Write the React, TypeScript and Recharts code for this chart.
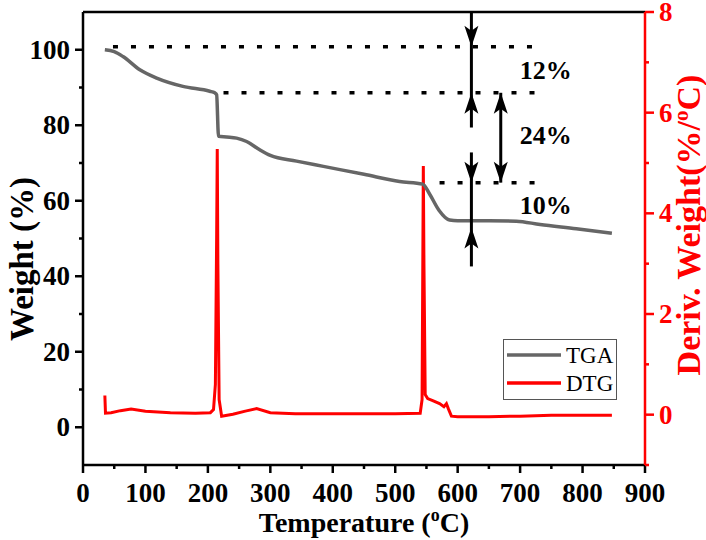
import React from 'react';
import {
  ComposedChart,
  Line,
  XAxis,
  YAxis,
  ReferenceLine,
  ReferenceDot,
  Legend,
} from 'recharts';

const FONT = '"Liberation Serif", "Times New Roman", serif';

// TGA curve: temperature (°C) vs weight (%)
const tgaTemp = [35, 50, 64, 91, 118, 160, 203, 211, 214, 217, 230, 246, 262, 283, 300, 342, 385, 450, 507, 544, 555, 570, 587, 600, 650, 694, 732, 790, 847];
const tgaWeight = [100.0, 99.5, 98.2, 94.7, 92.5, 90.3, 89.0, 88.6, 88.1, 77.1, 76.9, 76.6, 75.7, 73.5, 72.0, 70.5, 69.1, 67.0, 65.1, 64.4, 61.8, 57.5, 54.9, 54.7, 54.7, 54.6, 53.7, 52.6, 51.4];

// DTG curve: temperature (°C) vs deriv. weight (%/°C)
const dtgTemp = [35, 36, 45, 60, 77, 100, 140, 180, 204, 209, 212, 214, 215, 216, 218, 222, 240, 260, 278, 300, 340, 400, 450, 500, 540, 543, 545, 546, 548, 552, 560, 571, 578, 582, 585, 590, 600, 650, 700, 750, 800, 847];
const dtgRate = [0.38, 0.03, 0.04, 0.08, 0.11, 0.07, 0.04, 0.03, 0.04, 0.1, 0.6, 3.5, 5.28, 3.0, 0.3, -0.03, 0.01, 0.07, 0.12, 0.04, 0.02, 0.02, 0.02, 0.02, 0.03, 0.3, 4.94, 3.0, 0.4, 0.32, 0.28, 0.22, 0.16, 0.22, 0.12, -0.03, -0.04, -0.04, -0.03, -0.01, -0.01, -0.01];

const xTicks = [0, 50, 100, 150, 200, 250, 300, 350, 400, 450, 500, 550, 600, 650, 700, 750, 800, 850, 900];
const weightTicks = [0, 10, 20, 30, 40, 50, 60, 70, 80, 90, 100];
const derivTicks = [-1, 0, 1, 2, 3, 4, 5, 6, 7, 8];

// mass-loss steps
const stepLevel = [100.8, 88.6, 64.8];
const stepStart = [48, 225, 571];
const stepEnd = [735, 735, 728];
const stepLabel = ['12%', '24%', '10%'];
const stepLabelWeight = [94.7, 77.5, 59];
const stepLabelTemp = 741;
const arrowTemp = [622, 669];

const tgaData = tgaTemp.map((t, i) => ({ t, w: tgaWeight[i] }));
const dtgData = dtgTemp.map((t, i) => ({ t, d: dtgRate[i] }));

const bold = { fontWeight: 700, fontFamily: FONT };

function XTick({ x, y, payload }: any) {
  const major = payload.value % 100 === 0;
  return (
    <g>
      <line x1={x} x2={x} y1={y} y2={y + (major ? 8 : 4)} stroke="#000" strokeWidth={2.5} />
      {major && (
        <text x={x} y={y + 37} textAnchor="middle" fontSize={27} style={bold} fill="#000">
          {payload.value}
        </text>
      )}
    </g>
  );
}

function LeftTick({ x, y, payload }: any) {
  const major = payload.value % 20 === 0;
  return (
    <g>
      <line x1={x} x2={x - (major ? 8 : 4)} y1={y} y2={y} stroke="#000" strokeWidth={2.5} />
      {major && (
        <text x={x - 13} y={y + 9} textAnchor="end" fontSize={27} style={bold} fill="#000">
          {payload.value}
        </text>
      )}
    </g>
  );
}

function RightTick({ x, y, payload }: any) {
  const major = payload.value % 2 === 0;
  return (
    <g>
      <line x1={x} x2={x + (major ? 9 : 4)} y1={y} y2={y} stroke="#ff0000" strokeWidth={2.5} />
      {major && (
        <text x={x + 14} y={y + 9} textAnchor="start" fontSize={27} style={bold} fill="#ff0000">
          {payload.value}
        </text>
      )}
    </g>
  );
}

const arrowHead = (dir: 'up' | 'down') => (p: any) => {
  const s = dir === 'down' ? -1 : 1;
  const { cx, cy } = p;
  return (
    <polygon
      points={`${cx},${cy} ${cx - 7},${cy + s * 21} ${cx},${cy + s * 16} ${cx + 7},${cy + s * 21}`}
      fill="#000"
    />
  );
};

const pctLabel = (txt: string) => (p: any) => (
  <text x={p.cx} y={p.cy} dy={9} textAnchor="middle" fontSize={26} style={bold} fill="#000">
    {txt}
  </text>
);

function LegendBox() {
  return (
    <div style={{ width: 114, height: 61, border: '1px solid #555', boxSizing: 'border-box', background: '#fff' }}>
      <svg width={112} height={59}>
        <line x1={3} x2={57} y1={15} y2={15} stroke="#666" strokeWidth={3.5} />
        <text x={62} y={23} fontSize={23} fontFamily={FONT} fill="#000">TGA</text>
        <line x1={3} x2={57} y1={43} y2={43} stroke="#ff0000" strokeWidth={3.5} />
        <text x={62} y={51} fontSize={23} fontFamily={FONT} fill="#000">DTG</text>
      </svg>
    </div>
  );
}

export default function App() {
  return (
    <div style={{ position: 'absolute', left: 0, top: 0, background: '#fff' }}>
      <ComposedChart width={706} height={540} margin={{ top: 12, right: 0, bottom: 0, left: 0 }}>
        <XAxis
          type="number"
          dataKey="t"
          domain={[0, 900]}
          ticks={xTicks}
          interval={0}
          tickSize={0}
          tickMargin={0}
          tickLine={false}
          tick={<XTick />}
          height={75}
          axisLine={{ stroke: '#000', strokeWidth: 2.5 }}
          label={{
            content: () => (
              <text x={364} y={532} textAnchor="middle" fontSize={28} style={bold} fill="#000">
                Temperature (<tspan dy={-11} fontSize={18}>o</tspan>
                <tspan dy={11}>C)</tspan>
              </text>
            ),
          }}
        />
        <YAxis
          yAxisId="left"
          type="number"
          domain={[-10, 110]}
          ticks={weightTicks}
          interval={0}
          tickSize={0}
          tickMargin={0}
          tickLine={false}
          tick={<LeftTick />}
          width={83}
          axisLine={{ stroke: '#000', strokeWidth: 2.5 }}
          label={{
            content: () => (
              <text
                x={22}
                y={259}
                transform="rotate(-90 22 259)"
                dy={11}
                textAnchor="middle"
                fontSize={33}
                style={bold}
                fill="#000"
              >
                Weight (%)
              </text>
            ),
          }}
        />
        <YAxis
          yAxisId="right"
          orientation="right"
          type="number"
          domain={[-1, 8]}
          ticks={derivTicks}
          interval={0}
          tickSize={0}
          tickMargin={0}
          tickLine={false}
          tick={<RightTick />}
          width={61}
          axisLine={{ stroke: '#ff0000', strokeWidth: 2.5 }}
          label={{
            content: () => (
              <text
                x={689}
                y={225}
                transform="rotate(-90 689 225)"
                dy={11}
                textAnchor="middle"
                fontSize={34}
                style={bold}
                fill="#ff0000"
              >
                Deriv. Weight(%/<tspan dy={-12} fontSize={21}>o</tspan>
                <tspan dy={12}>C)</tspan>
              </text>
            ),
          }}
        />

        {/* top frame */}
        <ReferenceLine yAxisId="left" y={110} stroke="#000" strokeWidth={2.5} />

        {/* dashed step levels */}
        {stepLevel.map((lv, i) => (
          <ReferenceLine
            key={'s' + i}
            yAxisId="left"
            segment={[{ x: stepStart[i], y: lv }, { x: stepEnd[i], y: lv }]}
            stroke="#000"
            strokeWidth={3.5}
            strokeDasharray="5 13"
          />
        ))}

        <Line
          yAxisId="right"
          data={dtgData}
          dataKey="d"
          type="linear"
          stroke="#ff0000"
          strokeWidth={3}
          dot={false}
          isAnimationActive={false}
          name="DTG"
        />
        <Line
          yAxisId="left"
          data={tgaData}
          dataKey="w"
          type="monotone"
          stroke="#666666"
          strokeWidth={3.5}
          dot={false}
          isAnimationActive={false}
          name="TGA"
        />

        {/* arrows */}
        <ReferenceLine yAxisId="left" segment={[{ x: arrowTemp[0], y: 110 }, { x: arrowTemp[0], y: 79.4 }]} stroke="#000" strokeWidth={3} />
        <ReferenceLine yAxisId="left" segment={[{ x: arrowTemp[0], y: 72.8 }, { x: arrowTemp[0], y: 42.6 }]} stroke="#000" strokeWidth={3} />
        <ReferenceLine yAxisId="left" segment={[{ x: arrowTemp[1], y: stepLevel[1] }, { x: arrowTemp[1], y: stepLevel[2] }]} stroke="#000" strokeWidth={3} />
        <ReferenceDot yAxisId="left" x={arrowTemp[0]} y={stepLevel[0]} r={1} shape={arrowHead('down')} />
        <ReferenceDot yAxisId="left" x={arrowTemp[0]} y={stepLevel[1]} r={1} shape={arrowHead('up')} />
        <ReferenceDot yAxisId="left" x={arrowTemp[0]} y={stepLevel[2]} r={1} shape={arrowHead('down')} />
        <ReferenceDot yAxisId="left" x={arrowTemp[0]} y={52.9} r={1} shape={arrowHead('up')} />
        <ReferenceDot yAxisId="left" x={arrowTemp[1]} y={stepLevel[1]} r={1} shape={arrowHead('up')} />
        <ReferenceDot yAxisId="left" x={arrowTemp[1]} y={stepLevel[2]} r={1} shape={arrowHead('down')} />

        {stepLabel.map((txt, i) => (
          <ReferenceDot key={'l' + i} yAxisId="left" x={stepLabelTemp} y={stepLabelWeight[i]} r={1} shape={pctLabel(txt)} />
        ))}

        <Legend
          layout="horizontal"
          verticalAlign="middle"
          align="center"
          content={() => <LegendBox />}
          wrapperStyle={{ position: 'absolute', left: 503, top: 339, width: 114, height: 61 }}
        />
      </ComposedChart>
    </div>
  );
}
